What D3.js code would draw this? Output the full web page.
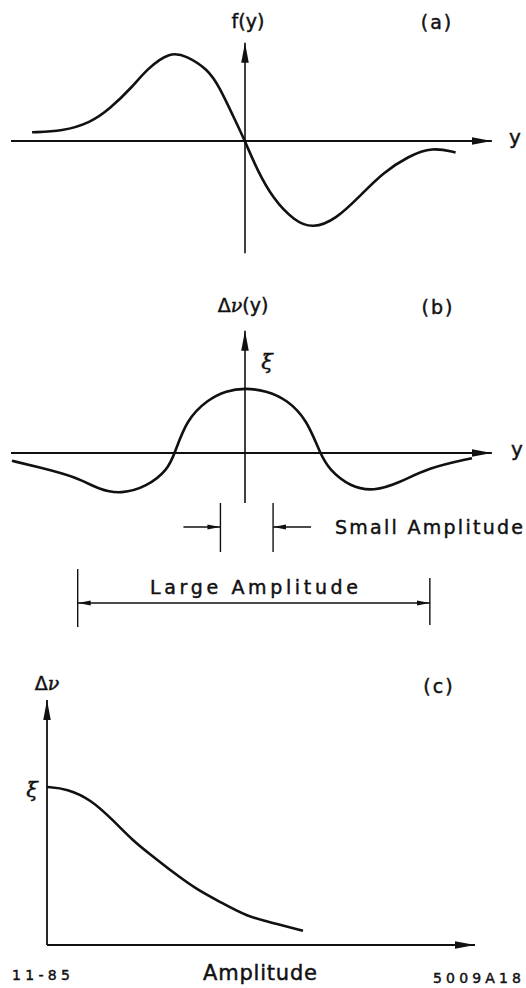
<!DOCTYPE html>
<html>
<head>
<meta charset="utf-8">
<script src="https://cdn.jsdelivr.net/npm/d3@7/dist/d3.min.js"></script>
<style>
  html, body { margin: 0; padding: 0; background: #fff; }
  svg { display: block; }
  text { font-family: "DejaVu Sans", sans-serif; fill: #111; stroke: #111; stroke-width: 0.45px; }
  .greek { font-family: "DejaVu Serif", serif; font-style: italic; }
</style>
</head>
<body>
<svg id="chart" width="526" height="988"></svg>
<script>
// (a) f(y) vs transverse position y
const posA = [-9.1, -7.8, -6.6, -5.8, -4.8, -4.2, -3.2, -2.5, -1.6, -1.1, -0.5, 0, 0.5, 1.2, 2.1, 2.9, 3.9, 4.9, 5.9, 7.0, 8.0, 9.0];
const valA = [0.10, 0.11, 0.21, 0.36, 0.62, 0.82, 1.02, 0.97, 0.82, 0.62, 0.28, 0, -0.32, -0.66, -0.91, -1.0, -0.89, -0.63, -0.36, -0.17, -0.07, -0.13];

// (b) tune shift Δν(y), peak value ξ at y = 0
const posB = [-9.96, -8.8, -7.2, -6.2, -5.3, -4.2, -3.3, -3.0, -2.5, -1.6, -0.8, 0, 0.9, 1.8, 2.65, 3.2, 3.6, 4.5, 5.5, 6.6, 7.8, 9.7];
const valB = [-0.12, -0.22, -0.37, -0.57, -0.63, -0.52, -0.26, 0, 0.51, 0.82, 0.96, 1.0, 0.96, 0.82, 0.51, 0, -0.26, -0.52, -0.59, -0.46, -0.23, -0.08];

// amplitude ranges marked under (b)
const smallAmp = [-1.05, 1.2];
const largeAmp = [-7.15, 7.9];

// (c) tune shift Δν vs oscillation amplitude
const ampC = [0, 0.5, 1.1, 1.65, 2.15, 2.6, 3.15, 3.75, 4.35, 5.0, 5.65, 6.4];
const valC = [1.0, 0.99, 0.92, 0.79, 0.66, 0.57, 0.46, 0.35, 0.27, 0.18, 0.14, 0.09];

const svg = d3.select("#chart");

// arrowheads
const defs = svg.append("defs");
function marker(id, len, half) {
  defs.append("marker")
    .attr("id", id)
    .attr("viewBox", `0 ${-half} ${len} ${2 * half}`)
    .attr("refX", len).attr("refY", 0)
    .attr("markerWidth", len).attr("markerHeight", 2 * half)
    .attr("markerUnits", "userSpaceOnUse")
    .attr("orient", "auto-start-reverse")
    .append("path")
    .attr("d", `M0,${-half}L${len},0L0,${half}Z`)
    .attr("fill", "#111");
}
marker("axisHead", 20, 3.8);
marker("dimHead", 13, 2.6);

const ink = "#111";
const line = (x, y) => d3.line().x(d => x(d[0])).y(d => y(d[1])).curve(d3.curveBasis);

function axisLine(g, x1, y1, x2, y2, w, head) {
  const l = g.append("line")
    .attr("x1", x1).attr("y1", y1).attr("x2", x2).attr("y2", y2)
    .attr("stroke", ink).attr("stroke-width", w);
  if (head) l.attr("marker-end", "url(#" + head + ")");
  return l;
}

// ---------- panel (a) ----------
const xA = d3.scaleLinear().domain([-10, 10]).range([11, 479]);
const yA = d3.scaleLinear().domain([-1, 1]).range([141 + 87.7, 141 - 87.7]);
const gA = svg.append("g");
axisLine(gA, xA(-10), yA(0), xA(10.55), yA(0), 1.8, "axisHead");
axisLine(gA, xA(0), yA(-1.28), xA(0), yA(1.12), 1.6, "axisHead");
gA.append("path")
  .attr("d", line(xA, yA)(d3.zip(posA, valA)))
  .attr("fill", "none").attr("stroke", ink).attr("stroke-width", 2.6);
gA.append("text").attr("x", 248).attr("y", 28).attr("text-anchor", "middle")
  .attr("font-size", 19).text("f(y)");
gA.append("text").attr("x", 437).attr("y", 29).attr("text-anchor", "middle")
  .attr("font-size", 19).attr("letter-spacing", 2).text("(a)");
gA.append("text").attr("x", 515).attr("y", 144).attr("text-anchor", "middle")
  .attr("font-size", 20).text("y");

// ---------- panel (b) ----------
const xB = d3.scaleLinear().domain([-10, 10]).range([11, 479]);
const yB = d3.scaleLinear().domain([-1, 1]).range([453 + 65, 453 - 65]);
const gB = svg.append("g");
axisLine(gB, xB(-10), yB(0), xB(10.55), yB(0), 1.8, "axisHead");
axisLine(gB, xB(0), yB(-0.77), xB(0), yB(1.88), 1.6, "axisHead");
gB.append("path")
  .attr("d", line(xB, yB)(d3.zip(posB, valB)))
  .attr("fill", "none").attr("stroke", ink).attr("stroke-width", 2.6);
const lblB = gB.append("text").attr("x", 243).attr("y", 312).attr("text-anchor", "middle")
  .attr("font-size", 19);
lblB.append("tspan").text("Δ");
lblB.append("tspan").attr("class", "greek").text("ν");
lblB.append("tspan").text("(y)");
gB.append("text").attr("x", 438).attr("y", 314).attr("text-anchor", "middle")
  .attr("font-size", 19).attr("letter-spacing", 2).text("(b)");
gB.append("text").attr("class", "greek").attr("x", 267).attr("y", 369).attr("text-anchor", "middle")
  .attr("font-size", 21).text("ξ");
gB.append("text").attr("x", 517).attr("y", 456).attr("text-anchor", "middle")
  .attr("font-size", 20).text("y");

// small-amplitude range
const smallY = 527;
smallAmp.forEach(v => axisLine(gB, xB(v), 503, xB(v), 552, 1.4));
axisLine(gB, xB(smallAmp[0]) - 37, smallY, xB(smallAmp[0]), smallY, 1.4, "dimHead");
axisLine(gB, xB(smallAmp[1]) + 38, smallY, xB(smallAmp[1]), smallY, 1.4, "dimHead");
gB.append("text").attr("x", 335).attr("y", 534)
  .attr("font-size", 19).attr("textLength", 188).attr("lengthAdjust", "spacing")
  .text("Small Amplitude");

// large-amplitude range
const largeY = 603;
axisLine(gB, xB(largeAmp[0]), 569, xB(largeAmp[0]), 627, 1.4);
axisLine(gB, xB(largeAmp[1]), 578, xB(largeAmp[1]), 625, 1.4);
gB.append("line")
  .attr("x1", xB(largeAmp[0])).attr("y1", largeY).attr("x2", xB(largeAmp[1])).attr("y2", largeY)
  .attr("stroke", ink).attr("stroke-width", 1.5)
  .attr("marker-start", "url(#dimHead)").attr("marker-end", "url(#dimHead)");
gB.append("text").attr("x", 150).attr("y", 594)
  .attr("font-size", 19).attr("textLength", 208).attr("lengthAdjust", "spacing")
  .text("Large  Amplitude");

// ---------- panel (c) ----------
const xC = d3.scaleLinear().domain([0, 10]).range([47, 447]);
const yC = d3.scaleLinear().domain([0, 1]).range([945, 787]);
const gC = svg.append("g");
axisLine(gC, xC(0), yC(0), xC(10.7), yC(0), 1.8, "axisHead");
axisLine(gC, xC(0), yC(0), xC(0), yC(1.55), 1.8, "axisHead");
gC.append("path")
  .attr("d", line(xC, yC)(d3.zip(ampC, valC)))
  .attr("fill", "none").attr("stroke", ink).attr("stroke-width", 2.6);
const lblC = gC.append("text").attr("x", 47).attr("y", 690).attr("text-anchor", "middle")
  .attr("font-size", 19);
lblC.append("tspan").text("Δ");
lblC.append("tspan").attr("class", "greek").text("ν");
gC.append("text").attr("x", 439).attr("y", 693).attr("text-anchor", "middle")
  .attr("font-size", 19).attr("letter-spacing", 2).text("(c)");
gC.append("text").attr("class", "greek").attr("x", 32).attr("y", 797).attr("text-anchor", "middle")
  .attr("font-size", 21).text("ξ");
gC.append("text").attr("x", 203).attr("y", 980)
  .attr("font-size", 21).attr("textLength", 114).attr("lengthAdjust", "spacing")
  .text("Amplitude");

// figure stamps
svg.append("text").attr("x", 12).attr("y", 980)
  .attr("font-family", "Liberation Sans, sans-serif").attr("font-size", 14)
  .attr("stroke-width", 0.2)
  .attr("textLength", 58).attr("lengthAdjust", "spacing").text("11-85");
svg.append("text").attr("x", 433).attr("y", 983)
  .attr("font-family", "Liberation Sans, sans-serif").attr("font-size", 14)
  .attr("stroke-width", 0.2)
  .attr("textLength", 88).attr("lengthAdjust", "spacing").text("5009A18");
</script>
</body>
</html>
